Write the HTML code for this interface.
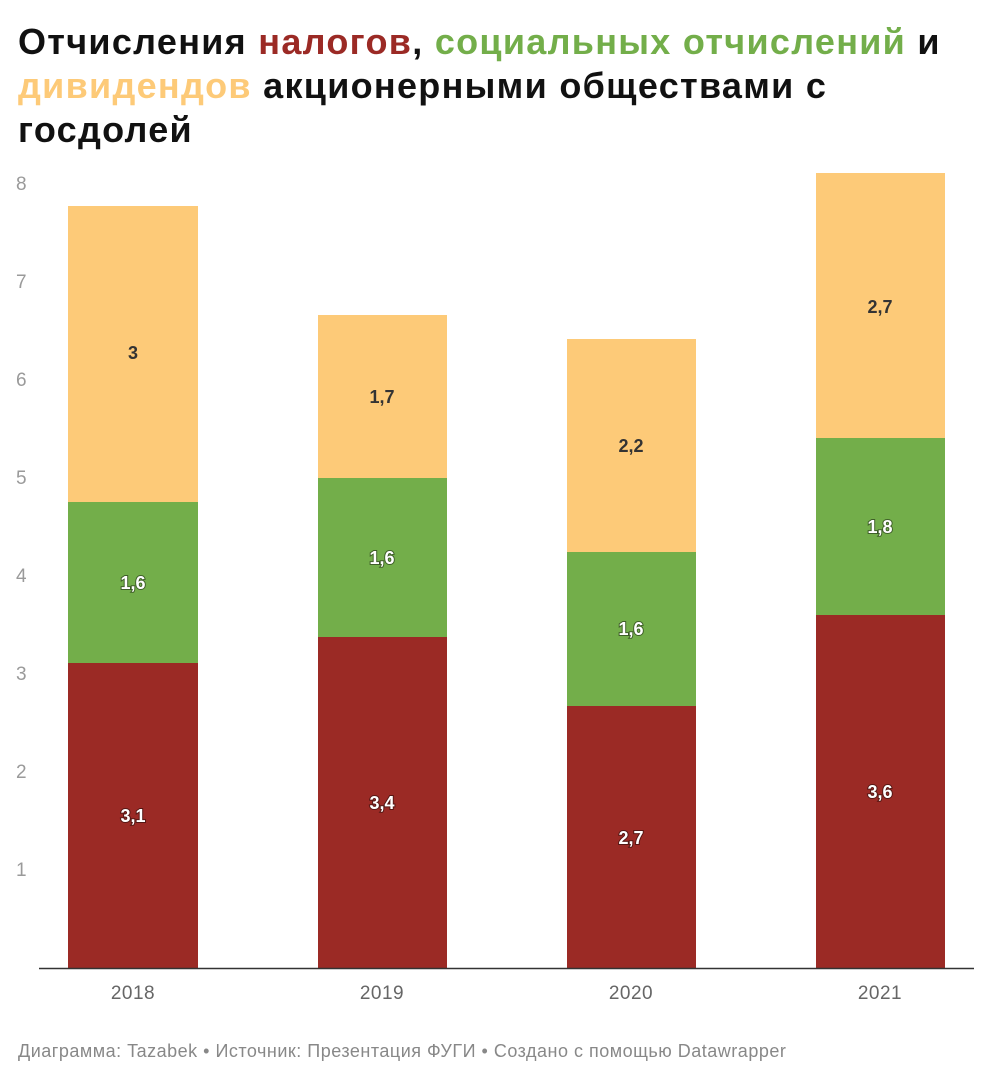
<!DOCTYPE html>
<html><head><meta charset="utf-8"><style>
body{margin:0;background:#fff;width:992px;height:1079px;overflow:hidden;font-family:"Liberation Sans",sans-serif}
h1{position:absolute;left:18px;top:20px;margin:0;font-size:36px;letter-spacing:1.3px;line-height:44px;font-weight:bold;color:#111;width:970px;white-space:nowrap}
svg{position:absolute;left:0;top:0}
.t{font-size:18px;font-weight:bold;text-anchor:middle}
.w{fill:#fff;paint-order:stroke;stroke:rgba(0,0,0,0.45);stroke-width:2px}
.d{fill:#333}
.ax{font-size:19px;fill:#9a9a9a}
.x{font-size:19px;fill:#666;text-anchor:middle;letter-spacing:0.5px}
</style></head><body>
<h1>Отчисления <span style="color:#9b2a25">налогов</span>, <span style="color:#73ae4a">социальных отчислений</span> и<br><span style="color:#fdca78">дивидендов</span> акционерными обществами с<br>госдолей</h1>
<svg width="992" height="1079">
<g class="ax">
<text x="16" y="190">8</text><text x="16" y="288">7</text><text x="16" y="386">6</text><text x="16" y="484">5</text>
<text x="16" y="582">4</text><text x="16" y="680">3</text><text x="16" y="778">2</text><text x="16" y="876">1</text>
</g>
<rect x="68" y="663" width="130" height="305" fill="#9b2a25"/><rect x="68" y="502" width="130" height="161" fill="#73ae4a"/><rect x="68" y="206" width="130" height="296" fill="#fdca78"/>
<rect x="318" y="637" width="129" height="331" fill="#9b2a25"/><rect x="318" y="478" width="129" height="159" fill="#73ae4a"/><rect x="318" y="315" width="129" height="163" fill="#fdca78"/>
<rect x="567" y="706" width="129" height="262" fill="#9b2a25"/><rect x="567" y="552" width="129" height="154" fill="#73ae4a"/><rect x="567" y="339" width="129" height="213" fill="#fdca78"/>
<rect x="816" y="615" width="129" height="353" fill="#9b2a25"/><rect x="816" y="438" width="129" height="177" fill="#73ae4a"/><rect x="816" y="173" width="129" height="265" fill="#fdca78"/>
<line x1="39" y1="968.5" x2="974" y2="968.5" stroke="#333" stroke-width="1.5"/>
<text class="t w" x="133" y="822">3,1</text><text class="t w" x="133" y="589">1,6</text><text class="t d" x="133" y="359">3</text>
<text class="t w" x="382" y="809">3,4</text><text class="t w" x="382" y="564">1,6</text><text class="t d" x="382" y="403">1,7</text>
<text class="t w" x="631" y="844">2,7</text><text class="t w" x="631" y="635">1,6</text><text class="t d" x="631" y="452">2,2</text>
<text class="t w" x="880" y="798">3,6</text><text class="t w" x="880" y="533">1,8</text><text class="t d" x="880" y="313">2,7</text>
<text class="x" x="133" y="999">2018</text><text class="x" x="382" y="999">2019</text><text class="x" x="631" y="999">2020</text><text class="x" x="880" y="999">2021</text>
<text x="18" y="1057" font-size="18" letter-spacing="0.5" fill="#888">Диаграмма: Tazabek • Источник: Презентация ФУГИ • Создано с помощью Datawrapper</text>
</svg>
</body></html>
